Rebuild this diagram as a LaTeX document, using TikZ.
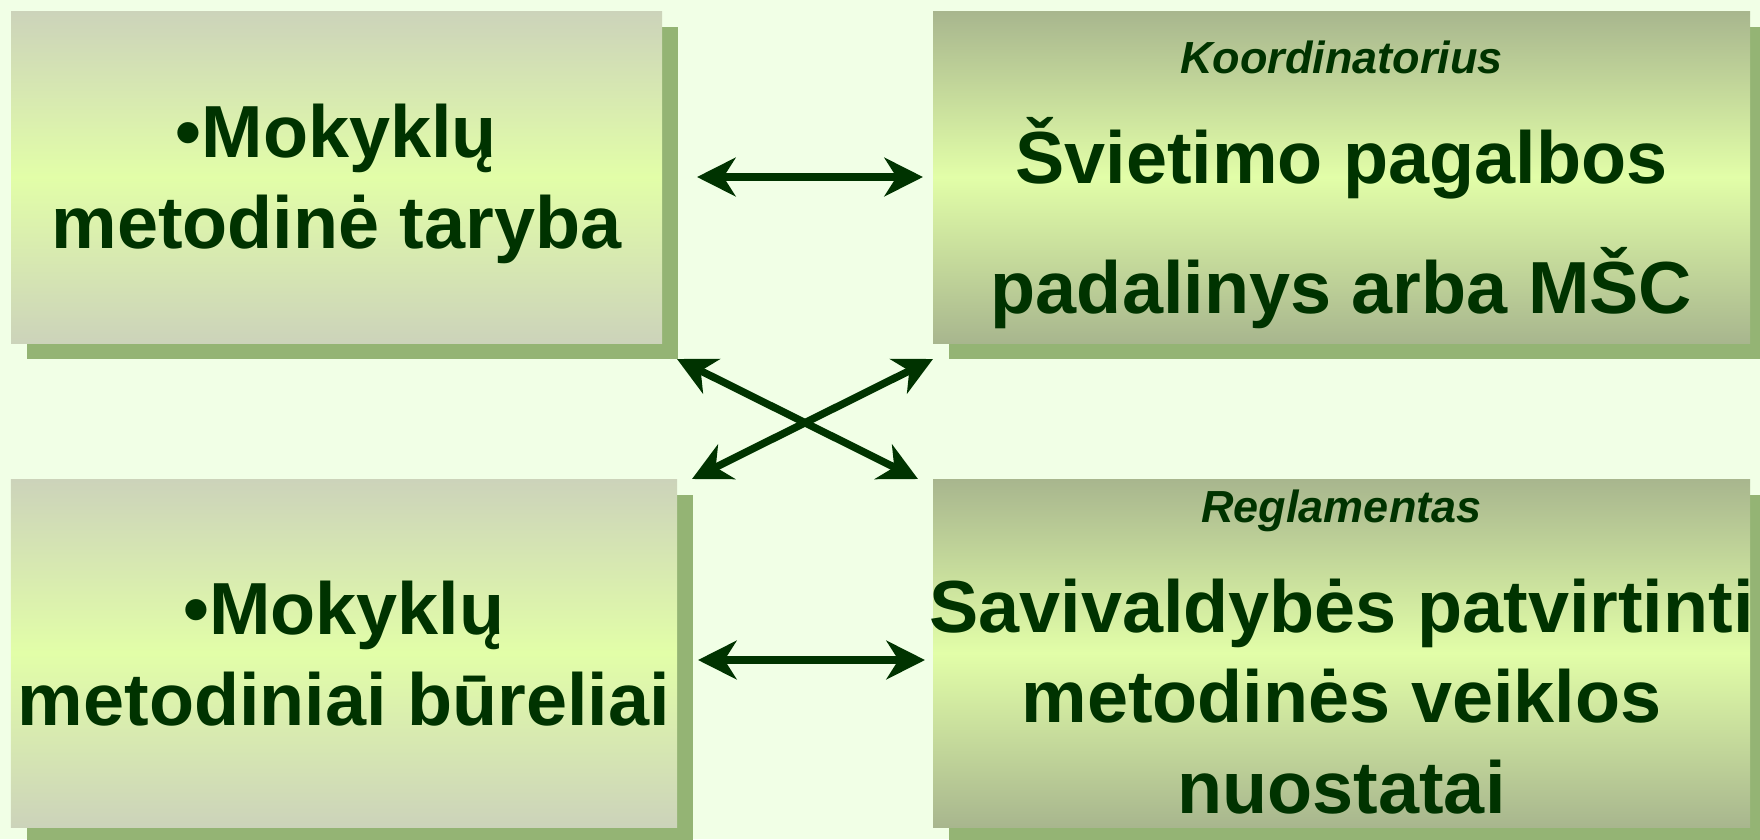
\documentclass[tikz,border=0pt]{standalone}
\usepackage{fontspec}
\setmainfont{Liberation Sans}
\usetikzlibrary{arrows.meta,shadows}
\definecolor{fonas}{HTML}{F1FFE6}
\definecolor{zalia}{HTML}{003300}
\definecolor{seselis}{HTML}{94B474}
\definecolor{pilkaz}{HTML}{CCD3BA}
\definecolor{tamsz}{HTML}{A8B68E}
\definecolor{geltz}{HTML}{E2FEA8}
\newcommand{\Didelis}{\bfseries\fontsize{21}{25.75}\selectfont}
\newcommand{\Mazas}{\bfseries\itshape\fontsize{12.8}{15}\selectfont}
\tikzset{
  dezute/.style={inner sep=0pt, outer sep=0pt, drop shadow={shadow xshift=0.16cm, shadow yshift=-0.16cm, fill=seselis, opacity=1}},
  sviesi/.style={dezute, top color=pilkaz, bottom color=pilkaz, middle color=geltz},
  tamsi/.style={dezute, top color=tamsz, bottom color=tamsz, middle color=geltz},
  tekstas/.style={text=zalia, align=center, anchor=base, inner sep=0pt, font=\Didelis},
  antraste/.style={text=zalia, anchor=base, inner sep=0pt, font=\Mazas},
  dvipusis/.style={<->, >={Stealth[length=0.385cm, width=0.385cm, inset=0.12cm]}, line width=0.075cm, draw=zalia}
}

\begin{document}
\begin{tikzpicture}[y=-1cm]
        \fill[fonas] (0,0) rectangle (17.6,8.39);
        \useasboundingbox (0,0) rectangle (17.6,8.39);
        \node[sviesi, minimum width=6.51cm, minimum height=3.32cm] (LT) at (3.365,1.77) {};
        \node[tamsi, minimum width=8.17cm, minimum height=3.32cm] (RT) at (13.415,1.77) {};
        \node[sviesi, minimum width=6.66cm, minimum height=3.48cm] (LB) at (3.44,6.53) {};
        \node[tamsi, minimum width=8.17cm, minimum height=3.48cm] (RB) at (13.415,6.53) {};
        \node[tekstas] (LTt) at (3.365,2.48) {•Mokyklų\\metodinė taryba};
        \node[tekstas] (LBt) at (3.44,7.25) {•Mokyklų\\metodiniai būreliai};
        \node[antraste] (RTa) at (13.415,0.73) {Koordinatorius};
        \node[tekstas] (RTt) at (13.415,3.13) {Švietimo pagalbos\\[0.395cm]padalinys arba MŠC};
        \node[antraste] (RBa) at (13.415,5.22) {Reglamentas};
        \node[tekstas] (RBt) at (13.415,8.13) {Savivaldybės patvirtinti\\metodinės veiklos\\nuostatai};
        \draw[dvipusis] ([xshift=0.35cm]LT.east) -- ([xshift=-0.10cm]RT.west);
        \draw[dvipusis] ([xshift=0.21cm,yshift=-0.07cm]LB.east) -- ([xshift=-0.08cm,yshift=-0.07cm]RB.west);
        \draw[dvipusis] ([xshift=0.15cm,yshift=-0.16cm]LT.south east) -- ([xshift=-0.15cm]RB.north west);
        \draw[dvipusis] ([xshift=0.15cm]LB.north east) -- ([yshift=-0.16cm]RT.south west);
      \end{tikzpicture}
\end{document}
